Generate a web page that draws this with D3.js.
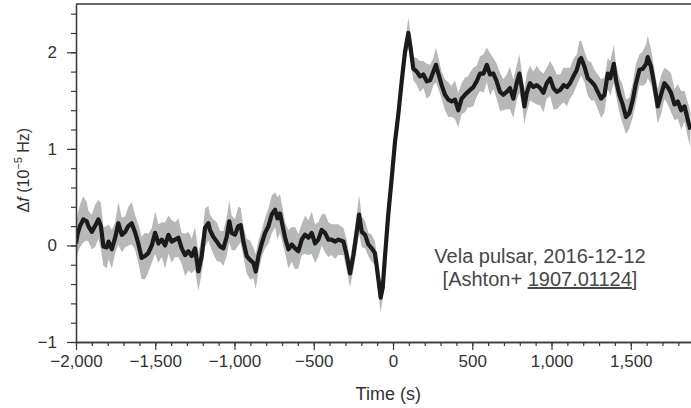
<!DOCTYPE html>
<html>
<head>
<meta charset="utf-8">
<script src="https://cdn.jsdelivr.net/npm/d3@7"></script>
<style>
  body { margin: 0; background: #fff; }
  svg { display: block; font-family: "Liberation Sans", Arial, sans-serif; }
</style>
</head>
<body>
<div id="chart"></div>
<script>
//Data: time (s) relative to the glitch
const times = [
  -2000, -1990, -1975, -1954, -1932, -1922, -1900, -1880, -1859, -1843,
  -1827, -1806, -1795, -1774, -1753, -1733, -1711, -1690, -1670, -1649,
  -1628, -1607, -1586, -1565, -1544, -1522, -1501, -1480, -1459, -1438,
  -1417, -1396, -1375, -1354, -1333, -1312, -1291, -1270, -1249, -1228,
  -1207, -1186, -1165,
  -1155, -1134, -1112, -1091, -1070, -1049, -1033, -1018, -997, -976,
  -961, -944, -923, -902, -881, -866, -849, -828, -807, -786,
  -765, -744, -729, -713, -696, -681, -660, -639, -618, -597,
  -576, -555, -534, -513, -492, -471, -450, -429, -408, -387,
  -366, -345,
  -313, -292, -271, -250, -229, -214, -197, -176, -156, -134,
  -114, -93, -78, -65, -50, -30, -8, 13, 33, 55,
  76, 97, 114, 128, 150, 170, 191, 213, 234, 255,
  271, 286, 307, 328, 349, 370, 391, 412, 433, 454,
  473, 486, 507, 528, 549, 571, 592, 612, 633, 654,
  675, 696, 717, 738, 759, 780, 797, 812, 829, 844,
  864, 886, 907, 928, 949, 970, 991, 1012, 1033, 1055,
  1076, 1097, 1117, 1138, 1160, 1176, 1187, 1208, 1229, 1250,
  1271, 1292, 1313, 1334, 1355, 1371, 1393, 1407, 1428, 1449,
  1470, 1491, 1513, 1533, 1555, 1576, 1597, 1607, 1628, 1649,
  1670, 1691, 1712, 1733, 1754, 1776, 1797, 1818, 1839, 1860,
  1876
];

//Data: frequency offset (10^-5 Hz)
const deltaF = [
  0.02, 0.12, 0.20, 0.27, 0.25, 0.20, 0.14, 0.20, 0.27, 0.20,
  -0.01, -0.02, 0.04, -0.04, 0.08, 0.23, 0.11, 0.14, 0.20, 0.23,
  0.14, 0.02, -0.13, -0.11, -0.08, 0.00, 0.13, 0.02, 0.06, 0.00,
  0.11, 0.04, 0.06, 0.08, -0.03, -0.10, -0.06, -0.11, -0.03, -0.27,
  -0.11, 0.18, 0.23,
  0.16, 0.09, 0.04, -0.01, -0.03, 0.09, 0.25, 0.13, 0.11, 0.20,
  0.21, 0.04, -0.11, -0.15, -0.18, -0.27, -0.11, 0.02, 0.13, 0.20,
  0.32, 0.37, 0.28, 0.33, 0.20, 0.08, -0.04, 0.01, -0.03, -0.06,
  0.06, 0.11, 0.08, 0.13, 0.02, 0.06, 0.16, 0.13, 0.06, 0.06,
  0.04, 0.06,
  0.04, -0.10, -0.29, -0.10, 0.14, 0.32, 0.14, 0.11, 0.01, -0.03,
  -0.08, -0.34, -0.54, -0.44, -0.10, 0.32, 0.70, 1.08, 1.35, 1.70,
  2.01, 2.20, 2.01, 1.83, 1.80, 1.75, 1.77, 1.70, 1.71, 1.80,
  1.87, 1.78, 1.66, 1.56, 1.51, 1.49, 1.51, 1.40, 1.52, 1.56,
  1.59, 1.61, 1.64, 1.70, 1.78, 1.78, 1.87, 1.77, 1.78, 1.70,
  1.59, 1.56, 1.59, 1.63, 1.52, 1.68, 1.78, 1.64, 1.44, 1.58,
  1.68, 1.64, 1.66, 1.63, 1.58, 1.68, 1.73, 1.63, 1.59, 1.61,
  1.66, 1.64, 1.68, 1.75, 1.82, 1.92, 1.94, 1.85, 1.73, 1.70,
  1.66, 1.59, 1.52, 1.56, 1.78, 1.73, 1.88, 1.71, 1.56, 1.46,
  1.33, 1.37, 1.51, 1.68, 1.82, 1.83, 1.88, 1.95, 1.85, 1.66,
  1.44, 1.56, 1.68, 1.64, 1.58, 1.46, 1.49, 1.40, 1.44, 1.30,
  1.20
];

//Data: half-width of the grey uncertainty band (10^-5 Hz)
const spread = [
  0.18, 0.20, 0.22, 0.24, 0.20, 0.16, 0.18, 0.22, 0.20, 0.24,
  0.20, 0.22, 0.18, 0.20, 0.16, 0.22, 0.18, 0.16, 0.20, 0.22,
  0.18, 0.20, 0.22, 0.24, 0.20, 0.18, 0.22, 0.20, 0.18, 0.24,
  0.20, 0.22, 0.18, 0.20, 0.16, 0.22, 0.20, 0.18, 0.22, 0.20,
  0.18, 0.20, 0.18,
  0.16, 0.18, 0.20, 0.16, 0.18, 0.20, 0.22, 0.18, 0.16, 0.20,
  0.18, 0.16, 0.18, 0.20, 0.16, 0.18, 0.16, 0.14, 0.16, 0.18,
  0.20, 0.18, 0.22, 0.20, 0.18, 0.16, 0.20, 0.18, 0.22, 0.18,
  0.16, 0.20, 0.18, 0.22, 0.20, 0.18, 0.16, 0.20, 0.18, 0.16,
  0.18, 0.16,
  0.14, 0.16, 0.14, 0.16, 0.18, 0.20, 0.16, 0.14, 0.12, 0.14,
  0.12, 0.14, 0.16, 0.12, 0.08, 0.06, 0.06, 0.06, 0.06, 0.08,
  0.10, 0.16, 0.14, 0.12, 0.14, 0.16, 0.14, 0.18, 0.16, 0.14,
  0.18, 0.16, 0.14, 0.16, 0.18, 0.16, 0.20, 0.18, 0.16, 0.18,
  0.16, 0.18, 0.20, 0.16, 0.18, 0.20, 0.18, 0.22, 0.16, 0.18,
  0.20, 0.16, 0.18, 0.22, 0.20, 0.18, 0.20, 0.16, 0.18, 0.20,
  0.18, 0.16, 0.20, 0.18, 0.20, 0.16, 0.18, 0.22, 0.18, 0.16,
  0.18, 0.20, 0.16, 0.18, 0.16, 0.20, 0.18, 0.16, 0.18, 0.20,
  0.16, 0.18, 0.20, 0.18, 0.16, 0.18, 0.20, 0.16, 0.18, 0.20,
  0.18, 0.16, 0.18, 0.20, 0.16, 0.18, 0.20, 0.22, 0.18, 0.16,
  0.18, 0.20, 0.16, 0.18, 0.20, 0.16, 0.18, 0.20, 0.16, 0.18,
  0.18
];

//Tick values
const xMajorTicks = [-2000, -1500, -1000, -500, 0, 500, 1000, 1500];
const xMinorTicks = d3.range(-2000, 1801, 100);
const yMajorTicks = [-1, 0, 1, 2];
const yMinorTicks = d3.range(-10, 25, 2).map((d) => d / 10);

//Chart Variables and Constants
const width = 691;
const height = 408;
const margin = { top: 4, right: 0, bottom: 66, left: 76 };
const axisColor = "#3a3a3a";
const textColor = "#333";

const data = times.map((t, i) => ({ t, v: deltaF[i], s: spread[i] }));

const svg = d3
  .select("#chart")
  .append("svg")
  .attr("width", width)
  .attr("height", height);

const x = d3
  .scaleLinear()
  .domain([-2000, 1880])
  .range([margin.left, width - margin.right]);

const y = d3
  .scaleLinear()
  .domain([-1, 2.5])
  .range([height - margin.bottom, margin.top]);

//Clip the traces to the plot area
svg
  .append("clipPath")
  .attr("id", "plot-clip")
  .append("rect")
  .attr("x", margin.left)
  .attr("y", margin.top)
  .attr("width", width - margin.left - margin.right)
  .attr("height", height - margin.top - margin.bottom);

const plot = svg.append("g").attr("clip-path", "url(#plot-clip)");

//Uncertainty band
const band = d3
  .area()
  .x((d) => x(d.t))
  .y0((d) => y(d.v - d.s))
  .y1((d) => y(d.v + d.s));

plot
  .append("path")
  .datum(data)
  .attr("d", band)
  .attr("fill", "#b7b8ba");

//Mean trace
const line = d3
  .line()
  .x((d) => x(d.t))
  .y((d) => y(d.v));

plot
  .append("path")
  .datum(data)
  .attr("d", line)
  .attr("fill", "none")
  .attr("stroke", "#1b1b1b")
  .attr("stroke-width", 4.2)
  .attr("stroke-linejoin", "round");

//Axes
function styleAxis(g) {
  g.select(".domain").attr("stroke", axisColor).attr("stroke-width", 1.3);
  g.selectAll(".tick line").attr("stroke", axisColor).attr("stroke-width", 1.2);
  g.selectAll(".tick text")
    .attr("fill", textColor)
    .attr("font-size", "17px")
    .attr("font-family", "Liberation Sans, Arial, sans-serif");
}

svg
  .append("g")
  .attr("transform", `translate(0, ${y(-1)})`)
  .call(d3.axisBottom(x).tickValues(xMinorTicks).tickSize(4).tickSizeOuter(0).tickFormat(""))
  .call(styleAxis);

svg
  .append("g")
  .attr("transform", `translate(0, ${y(-1)})`)
  .call(d3.axisBottom(x).tickValues(xMajorTicks).tickSize(8).tickSizeOuter(0).tickPadding(5).tickFormat(d3.format(",")))
  .call(styleAxis);

svg
  .append("g")
  .attr("transform", `translate(${margin.left}, 0)`)
  .call(d3.axisLeft(y).tickValues(yMinorTicks).tickSize(5).tickSizeOuter(0).tickFormat(""))
  .call(styleAxis);

svg
  .append("g")
  .attr("transform", `translate(${margin.left}, 0)`)
  .call(d3.axisLeft(y).tickValues(yMajorTicks).tickSize(9).tickSizeOuter(0).tickPadding(10).tickFormat(d3.format("d")))
  .call(styleAxis);

//Top frame line
svg
  .append("line")
  .attr("x1", margin.left)
  .attr("x2", width)
  .attr("y1", y(2.5))
  .attr("y2", y(2.5))
  .attr("stroke", axisColor)
  .attr("stroke-width", 1.3);

//Axis titles
svg
  .append("text")
  .attr("x", x(-30))
  .attr("y", 400)
  .attr("text-anchor", "middle")
  .attr("font-size", "18px")
  .attr("fill", textColor)
  .text("Time (s)");

const yTitle = svg
  .append("text")
  .attr("transform", `translate(29, ${y(0.78)}) rotate(-90)`)
  .attr("text-anchor", "middle")
  .attr("font-size", "16px")
  .attr("fill", textColor);

yTitle.append("tspan").text("\u0394");
yTitle.append("tspan").attr("font-style", "italic").text("f");
yTitle.append("tspan").text(" (10");
yTitle.append("tspan").attr("font-size", "11px").attr("dy", -7).text("\u22125");
yTitle.append("tspan").attr("dy", 7).text(" Hz)");

//Annotation
const note = svg
  .append("g")
  .attr("font-size", "20px")
  .attr("fill", "#474747")
  .attr("text-anchor", "middle");

note.append("text").attr("x", 540).attr("y", 263).text("Vela pulsar, 2016-12-12");

const ref = note.append("text").attr("x", 540).attr("y", 286);
ref.append("tspan").text("[Ashton+ ");
ref.append("tspan").attr("text-decoration", "underline").text("1907.01124");
ref.append("tspan").text("]");
</script>
</body>
</html>
